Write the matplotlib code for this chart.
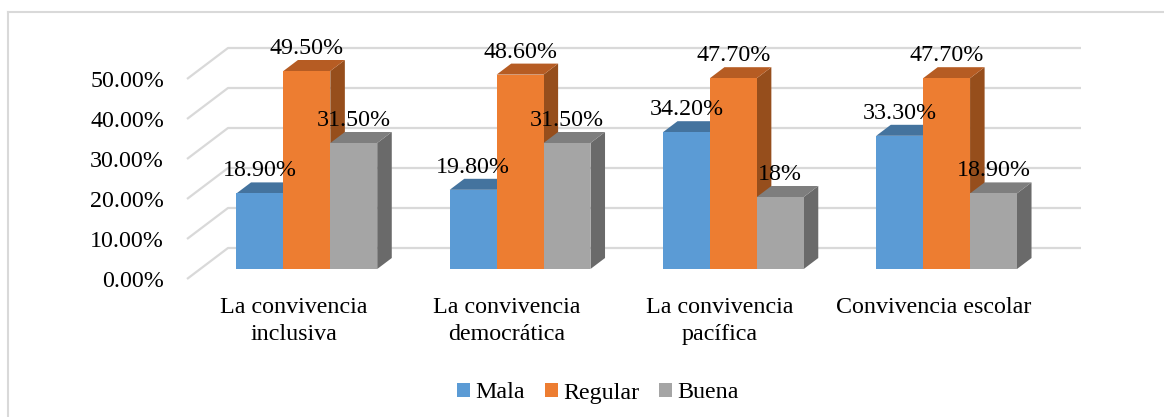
import matplotlib
matplotlib.use("Agg")
import matplotlib.pyplot as plt
from matplotlib.patches import Rectangle, Polygon, Patch
from matplotlib.lines import Line2D

# ---- data ----
categories = ["La convivencia\ninclusiva", "La convivencia\ndemocrática",
              "La convivencia\npacífica", "Convivencia escolar"]
series_names = ["Mala", "Regular", "Buena"]
mala = [18.9, 19.8, 34.2, 33.3]
regular = [49.5, 48.6, 47.7, 47.7]
buena = [31.5, 31.5, 18.0, 18.9]
mala_labels = ["18.90%", "19.80%", "34.20%", "33.30%"]
regular_labels = ["49.50%", "48.60%", "47.70%", "47.70%"]
buena_labels = ["31.50%", "31.50%", "18%", "18.90%"]
yticks = [0, 10, 20, 30, 40, 50]

series = [mala, regular, buena]
series_labels = [mala_labels, regular_labels, buena_labels]
front_colors = ["#5B9BD5", "#ED7D31", "#A5A5A5"]
top_colors = ["#44739E", "#B65C23", "#7E7E7E"]
side_colors = ["#3A6489", "#964E1C", "#6A6A6A"]

plt.rcParams['font.family'] = ['Liberation Serif', 'DejaVu Serif']
FS = 17.3

W, H = 1164, 417
fig = plt.figure(figsize=(W / 100, H / 100), dpi=100)
ax = fig.add_axes([0, 0, 1, 1])

# pixel geometry of the pseudo-3D plot (front plane)
PX0, PXW = 187.0, 213.25     # x=0 at px 187, one category = 213.25 px
PY0, PYS = 279.0, 4.0        # y=0 at px 279 (from top), 4 px per percent
ax.set_xlim(-PX0 / PXW, (W - PX0) / PXW)
ax.set_ylim((PY0 - H) / PYS, PY0 / PYS)
ax.axis('off')

DX = 41.0 / PXW      # full depth offset (x)
DY = 31.0 / PYS      # full depth offset (y)
F0 = 10.0 / 31.0     # bar starts at this depth fraction
FD = 11.0 / 31.0     # bar depth fraction
ncat = len(categories)

grid_c = "#D9D9D9"
for v in yticks:
    ax.plot([0, DX, ncat + DX], [v, v + DY, v + DY], color=grid_c, lw=1.6,
            solid_capstyle='butt', zorder=1)
    ax.text((164 - PX0) / PXW, v - 0.6, f"{v:.2f}%", ha='right', va='center',
            fontsize=FS, color='#000000')

bw = 0.22
pad = (1 - bw * len(series)) / 2
ddx, ddy = FD * DX, FD * DY
z = 2
for i in range(ncat):
    for j, vals in enumerate(series):
        h = vals[i]
        x0 = i + pad + j * bw + F0 * DX
        y0 = F0 * DY
        side = Polygon([(x0 + bw, y0), (x0 + bw + ddx, y0 + ddy),
                        (x0 + bw + ddx, y0 + h + ddy), (x0 + bw, y0 + h)],
                       closed=True, facecolor=side_colors[j], edgecolor='none', zorder=z)
        top = Polygon([(x0, y0 + h), (x0 + bw, y0 + h),
                       (x0 + bw + ddx, y0 + h + ddy), (x0 + ddx, y0 + h + ddy)],
                      closed=True, facecolor=top_colors[j], edgecolor='none', zorder=z + 0.1)
        front = Rectangle((x0, y0), bw, h, facecolor=front_colors[j],
                          edgecolor='none', zorder=z + 0.2)
        ax.add_patch(side)
        ax.add_patch(top)
        ax.add_patch(front)
        z += 1
        ax.text(x0 + bw / 2, y0 + h + 5.6, series_labels[j][i], ha='center',
                va='center', fontsize=FS, color='#000000', zorder=100)

for i, c in enumerate(categories):
    ax.text(i + 0.5, (PY0 - 297) / PYS, c, ha='center', va='top', fontsize=FS,
            linespacing=1.36, color='#000000')

handles = [Patch(facecolor=front_colors[j], edgecolor='none', label=series_names[j])
           for j in range(len(series))]
fig.legend(handles=handles, loc='center', bbox_to_anchor=(598 / W, 1 - 393 / H),
           ncol=3, frameon=False, fontsize=FS, handlelength=0.52, handleheight=0.52,
           handletextpad=0.22, columnspacing=0.85)

# outer chart border (top and left visible)
fig.add_artist(Line2D([8 / W, 1.0], [1 - 12 / H, 1 - 12 / H], color=grid_c, lw=1.5,
                      transform=fig.transFigure))
fig.add_artist(Line2D([8 / W, 8 / W], [1 - 12 / H, 0.0], color=grid_c, lw=1.5,
                      transform=fig.transFigure))

fig.savefig("out.png", dpi=100)
